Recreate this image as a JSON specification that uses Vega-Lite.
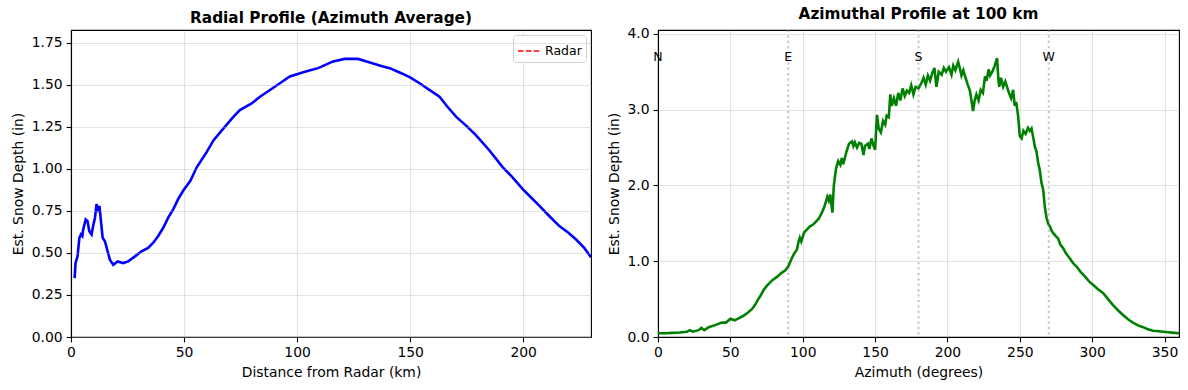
{
  "$schema": "https://vega.github.io/schema/vega-lite/v6.json",
  "padding": {"left": 10, "top": 6, "right": 5, "bottom": 5},
  "bounds": "flush",
  "spacing": 67,
  "resolve": {"legend": {"color": "independent"}, "scale": {"color": "independent"}},
  "config": {
    "font": "DejaVu Sans",
    "view": {"stroke": "black", "strokeWidth": 1.1},
    "axis": {"domainColor": "black", "domainWidth": 1.1, "tickColor": "black", "tickWidth": 1.1, "tickSize": 4.9, "labelPadding": 4, "labelFontSize": 13.9, "labelColor": "black", "titleFontSize": 13.9, "titleFontWeight": "normal", "titleColor": "black", "gridColor": "#b0b0b0", "gridOpacity": 0.35, "gridWidth": 1.1, "labelFlush": false, "labelOverlap": false, "titlePadding": 6},
    "title": {"fontSize": 15.3, "fontWeight": "bold", "color": "black", "anchor": "middle", "frame": "group", "offset": 4}
  },
  "datasets": {
    "radial": [
      {"distance": 1.6, "depth": 0.35}, {"distance": 2.0, "depth": 0.44}, {"distance": 2.9, "depth": 0.48}, {"distance": 3.7, "depth": 0.59},
      {"distance": 4.4, "depth": 0.61}, {"distance": 5.0, "depth": 0.6}, {"distance": 5.4, "depth": 0.64}, {"distance": 6.5, "depth": 0.7},
      {"distance": 7.3, "depth": 0.69}, {"distance": 8.1, "depth": 0.63}, {"distance": 9.1, "depth": 0.61}, {"distance": 9.8, "depth": 0.66},
      {"distance": 10.6, "depth": 0.71}, {"distance": 11.3, "depth": 0.79}, {"distance": 12.0, "depth": 0.76}, {"distance": 12.6, "depth": 0.78},
      {"distance": 13.1, "depth": 0.71}, {"distance": 14.0, "depth": 0.59}, {"distance": 15.0, "depth": 0.57}, {"distance": 16.2, "depth": 0.51},
      {"distance": 17.2, "depth": 0.46}, {"distance": 18.7, "depth": 0.43}, {"distance": 20.6, "depth": 0.45}, {"distance": 23.1, "depth": 0.44},
      {"distance": 25.3, "depth": 0.45}, {"distance": 28.3, "depth": 0.48}, {"distance": 31.2, "depth": 0.51}, {"distance": 34.1, "depth": 0.53},
      {"distance": 36.3, "depth": 0.56}, {"distance": 38.5, "depth": 0.6}, {"distance": 40.8, "depth": 0.65}, {"distance": 43.0, "depth": 0.71},
      {"distance": 45.2, "depth": 0.76}, {"distance": 47.4, "depth": 0.82}, {"distance": 49.6, "depth": 0.87}, {"distance": 52.8, "depth": 0.93},
      {"distance": 55.6, "depth": 1.01}, {"distance": 60.0, "depth": 1.1}, {"distance": 63.0, "depth": 1.17}, {"distance": 66.7, "depth": 1.23},
      {"distance": 71.8, "depth": 1.31}, {"distance": 74.7, "depth": 1.35}, {"distance": 79.9, "depth": 1.39}, {"distance": 83.6, "depth": 1.43},
      {"distance": 88.0, "depth": 1.47}, {"distance": 92.4, "depth": 1.51}, {"distance": 96.8, "depth": 1.55}, {"distance": 101.3, "depth": 1.57},
      {"distance": 105.0, "depth": 1.585}, {"distance": 109.3, "depth": 1.6}, {"distance": 115.9, "depth": 1.64}, {"distance": 121.1, "depth": 1.655},
      {"distance": 127.0, "depth": 1.655}, {"distance": 132.9, "depth": 1.63}, {"distance": 138.0, "depth": 1.61}, {"distance": 141.0, "depth": 1.6},
      {"distance": 146.1, "depth": 1.57}, {"distance": 150.0, "depth": 1.545}, {"distance": 154.2, "depth": 1.51}, {"distance": 158.0, "depth": 1.475},
      {"distance": 163.0, "depth": 1.43}, {"distance": 166.5, "depth": 1.37}, {"distance": 170.4, "depth": 1.31}, {"distance": 175.0, "depth": 1.255},
      {"distance": 179.2, "depth": 1.2}, {"distance": 185.1, "depth": 1.11}, {"distance": 191.0, "depth": 1.01}, {"distance": 195.0, "depth": 0.955},
      {"distance": 199.8, "depth": 0.88}, {"distance": 203.5, "depth": 0.83}, {"distance": 207.2, "depth": 0.78}, {"distance": 211.5, "depth": 0.72},
      {"distance": 216.0, "depth": 0.66}, {"distance": 220.0, "depth": 0.62}, {"distance": 223.4, "depth": 0.58}, {"distance": 227.0, "depth": 0.53},
      {"distance": 230.0, "depth": 0.475}
    ],
    "radar": [{"distance": 0, "label": "Radar"}],
    "azimuthal": [
      {"azimuth": 0, "depth": 0.05}, {"azimuth": 5, "depth": 0.05}, {"azimuth": 10, "depth": 0.055}, {"azimuth": 15, "depth": 0.06},
      {"azimuth": 20, "depth": 0.07}, {"azimuth": 22, "depth": 0.09}, {"azimuth": 24, "depth": 0.07}, {"azimuth": 28, "depth": 0.09},
      {"azimuth": 30, "depth": 0.12}, {"azimuth": 32, "depth": 0.09}, {"azimuth": 35, "depth": 0.13}, {"azimuth": 40, "depth": 0.16},
      {"azimuth": 44, "depth": 0.19}, {"azimuth": 47, "depth": 0.19}, {"azimuth": 50, "depth": 0.24}, {"azimuth": 53, "depth": 0.22},
      {"azimuth": 56, "depth": 0.25}, {"azimuth": 59, "depth": 0.28}, {"azimuth": 62, "depth": 0.32}, {"azimuth": 65, "depth": 0.37},
      {"azimuth": 67, "depth": 0.42}, {"azimuth": 69, "depth": 0.49}, {"azimuth": 71, "depth": 0.55}, {"azimuth": 73, "depth": 0.62},
      {"azimuth": 75, "depth": 0.67}, {"azimuth": 77, "depth": 0.71}, {"azimuth": 79, "depth": 0.75}, {"azimuth": 82, "depth": 0.79},
      {"azimuth": 85, "depth": 0.84}, {"azimuth": 88, "depth": 0.88}, {"azimuth": 90, "depth": 0.93}, {"azimuth": 92, "depth": 1.02},
      {"azimuth": 94, "depth": 1.1}, {"azimuth": 96, "depth": 1.15}, {"azimuth": 97, "depth": 1.25}, {"azimuth": 98, "depth": 1.31},
      {"azimuth": 99, "depth": 1.26}, {"azimuth": 101, "depth": 1.38}, {"azimuth": 103, "depth": 1.42}, {"azimuth": 105, "depth": 1.46},
      {"azimuth": 107, "depth": 1.48}, {"azimuth": 109, "depth": 1.52}, {"azimuth": 111, "depth": 1.56}, {"azimuth": 113, "depth": 1.63},
      {"azimuth": 115, "depth": 1.72}, {"azimuth": 117, "depth": 1.85}, {"azimuth": 118, "depth": 1.8}, {"azimuth": 119, "depth": 1.88},
      {"azimuth": 120.5, "depth": 1.64}, {"azimuth": 121.5, "depth": 2.0}, {"azimuth": 123, "depth": 2.22}, {"azimuth": 124.5, "depth": 2.32},
      {"azimuth": 126, "depth": 2.27}, {"azimuth": 127, "depth": 2.36}, {"azimuth": 128, "depth": 2.28}, {"azimuth": 130, "depth": 2.43},
      {"azimuth": 132, "depth": 2.55}, {"azimuth": 134, "depth": 2.58}, {"azimuth": 135, "depth": 2.52}, {"azimuth": 136, "depth": 2.57},
      {"azimuth": 137.5, "depth": 2.5}, {"azimuth": 139, "depth": 2.56}, {"azimuth": 140.5, "depth": 2.55}, {"azimuth": 142, "depth": 2.4},
      {"azimuth": 143, "depth": 2.52}, {"azimuth": 145, "depth": 2.55}, {"azimuth": 146, "depth": 2.48}, {"azimuth": 147.5, "depth": 2.62},
      {"azimuth": 149, "depth": 2.52}, {"azimuth": 150, "depth": 2.47}, {"azimuth": 151.3, "depth": 2.93}, {"azimuth": 152.5, "depth": 2.75},
      {"azimuth": 154, "depth": 2.7}, {"azimuth": 155.5, "depth": 2.85}, {"azimuth": 157, "depth": 2.8}, {"azimuth": 158, "depth": 2.92},
      {"azimuth": 159.5, "depth": 2.9}, {"azimuth": 160.5, "depth": 3.2}, {"azimuth": 161.5, "depth": 3.05}, {"azimuth": 163, "depth": 3.15},
      {"azimuth": 164.5, "depth": 3.05}, {"azimuth": 166, "depth": 3.22}, {"azimuth": 167.5, "depth": 3.12}, {"azimuth": 169, "depth": 3.28},
      {"azimuth": 170.5, "depth": 3.18}, {"azimuth": 172, "depth": 3.25}, {"azimuth": 173.5, "depth": 3.22}, {"azimuth": 175, "depth": 3.32},
      {"azimuth": 176.5, "depth": 3.2}, {"azimuth": 178, "depth": 3.3}, {"azimuth": 180, "depth": 3.28}, {"azimuth": 182, "depth": 3.35},
      {"azimuth": 183.5, "depth": 3.42}, {"azimuth": 185, "depth": 3.33}, {"azimuth": 186.5, "depth": 3.45}, {"azimuth": 188, "depth": 3.38},
      {"azimuth": 189.5, "depth": 3.48}, {"azimuth": 191, "depth": 3.55}, {"azimuth": 192.4, "depth": 3.3}, {"azimuth": 194, "depth": 3.5},
      {"azimuth": 196, "depth": 3.46}, {"azimuth": 197.5, "depth": 3.55}, {"azimuth": 199, "depth": 3.5}, {"azimuth": 201, "depth": 3.56},
      {"azimuth": 202.8, "depth": 3.46}, {"azimuth": 204, "depth": 3.58}, {"azimuth": 205.5, "depth": 3.52}, {"azimuth": 207.4, "depth": 3.63},
      {"azimuth": 208.5, "depth": 3.55}, {"azimuth": 209.7, "depth": 3.45}, {"azimuth": 211, "depth": 3.52}, {"azimuth": 212.5, "depth": 3.42},
      {"azimuth": 214, "depth": 3.33}, {"azimuth": 215.5, "depth": 3.25}, {"azimuth": 216.6, "depth": 3.12}, {"azimuth": 217.7, "depth": 2.98},
      {"azimuth": 218.8, "depth": 3.12}, {"azimuth": 220, "depth": 3.2}, {"azimuth": 221.5, "depth": 3.12}, {"azimuth": 223, "depth": 3.26},
      {"azimuth": 224.5, "depth": 3.22}, {"azimuth": 226, "depth": 3.44}, {"azimuth": 227, "depth": 3.38}, {"azimuth": 228.5, "depth": 3.53},
      {"azimuth": 229.5, "depth": 3.45}, {"azimuth": 231, "depth": 3.5}, {"azimuth": 232.7, "depth": 3.58}, {"azimuth": 234.3, "depth": 3.68},
      {"azimuth": 235.2, "depth": 3.4}, {"azimuth": 235.8, "depth": 3.3}, {"azimuth": 237, "depth": 3.42}, {"azimuth": 238.5, "depth": 3.3},
      {"azimuth": 240, "depth": 3.37}, {"azimuth": 241.5, "depth": 3.28}, {"azimuth": 242.5, "depth": 3.22}, {"azimuth": 244, "depth": 3.15},
      {"azimuth": 245.4, "depth": 3.26}, {"azimuth": 246.5, "depth": 3.05}, {"azimuth": 247.5, "depth": 3.1}, {"azimuth": 248.8, "depth": 2.92},
      {"azimuth": 250, "depth": 2.65}, {"azimuth": 251.2, "depth": 2.62}, {"azimuth": 252.5, "depth": 2.72}, {"azimuth": 254, "depth": 2.68},
      {"azimuth": 255.7, "depth": 2.76}, {"azimuth": 257, "depth": 2.72}, {"azimuth": 258.1, "depth": 2.75}, {"azimuth": 259.2, "depth": 2.64},
      {"azimuth": 260.4, "depth": 2.51}, {"azimuth": 261.5, "depth": 2.45}, {"azimuth": 262.6, "depth": 2.31}, {"azimuth": 263.8, "depth": 2.2},
      {"azimuth": 265, "depth": 2.03}, {"azimuth": 266.1, "depth": 1.95}, {"azimuth": 267.3, "depth": 1.72}, {"azimuth": 268.4, "depth": 1.58},
      {"azimuth": 269.5, "depth": 1.5}, {"azimuth": 271, "depth": 1.45}, {"azimuth": 272, "depth": 1.4}, {"azimuth": 273.5, "depth": 1.36},
      {"azimuth": 275.3, "depth": 1.32}, {"azimuth": 276.5, "depth": 1.3}, {"azimuth": 278, "depth": 1.22}, {"azimuth": 280, "depth": 1.17},
      {"azimuth": 282, "depth": 1.1}, {"azimuth": 284.5, "depth": 1.04}, {"azimuth": 287, "depth": 0.97}, {"azimuth": 289.2, "depth": 0.93},
      {"azimuth": 292, "depth": 0.86}, {"azimuth": 294.9, "depth": 0.8}, {"azimuth": 298, "depth": 0.73}, {"azimuth": 300.6, "depth": 0.69},
      {"azimuth": 304, "depth": 0.63}, {"azimuth": 307.5, "depth": 0.58}, {"azimuth": 311, "depth": 0.5}, {"azimuth": 314.4, "depth": 0.42},
      {"azimuth": 318, "depth": 0.35}, {"azimuth": 321.3, "depth": 0.29}, {"azimuth": 325, "depth": 0.23}, {"azimuth": 328.2, "depth": 0.19},
      {"azimuth": 332, "depth": 0.15}, {"azimuth": 335.2, "depth": 0.13}, {"azimuth": 338, "depth": 0.105}, {"azimuth": 342, "depth": 0.083},
      {"azimuth": 346, "depth": 0.075}, {"azimuth": 351, "depth": 0.066}, {"azimuth": 355, "depth": 0.058}, {"azimuth": 360, "depth": 0.049}
    ],
    "cardinal": [
      {"azimuth": 0, "dir": "N"}, {"azimuth": 90, "dir": "E"}, {"azimuth": 180, "dir": "S"}, {"azimuth": 270, "dir": "W"}
    ]
  },
  "hconcat": [
    {
      "width": 520,
      "height": 307,
      "title": "Radial Profile (Azimuth Average)",
      "encoding": {
        "x": {"field": "distance", "type": "quantitative", "scale": {"domain": [0, 230], "nice": false, "zero": false},
              "axis": {"values": [0, 50, 100, 150, 200], "title": "Distance from Radar (km)"}}
      },
      "layer": [
        {
          "data": {"name": "radial"},
          "mark": {"type": "line", "color": "#0000ff", "strokeWidth": 2.6, "clip": true},
          "encoding": {
            "y": {"field": "depth", "type": "quantitative", "scale": {"domain": [0, 1.827], "nice": false},
                  "axis": {"values": [0, 0.25, 0.5, 0.75, 1.0, 1.25, 1.5, 1.75], "format": ".2f", "title": "Est. Snow Depth (in)", "zindex": 1}}
          }
        },
        {
          "data": {"name": "radar"},
          "mark": {"type": "rule", "strokeWidth": 1, "strokeDash": [7.7, 3.3], "opacity": 0},
          "encoding": {
            "color": {"field": "label", "type": "nominal", "scale": {"domain": ["Radar"], "range": ["#ff0000"]},
                      "legend": {"title": null, "orient": "top-right", "offset": 5, "fillColor": "white", "strokeColor": "#d0d0d0", "padding": 4, "cornerRadius": 3, "symbolType": "stroke", "symbolStrokeWidth": 1.8, "symbolDash": [5.5, 2.4], "symbolSize": 484, "labelFontSize": 12.5, "labelColor": "black", "symbolOpacity": 0.75, "symbolStrokeColor": "#ff0000"}}
          }
        }
      ]
    },
    {
      "width": 521,
      "height": 307,
      "title": "Azimuthal Profile at 100 km",
      "encoding": {
        "x": {"field": "azimuth", "type": "quantitative", "scale": {"domain": [0, 360], "nice": false, "zero": false},
              "axis": {"values": [0, 50, 100, 150, 200, 250, 300, 350], "title": "Azimuth (degrees)"}}
      },
      "layer": [
        {
          "data": {"name": "azimuthal"},
          "mark": {"type": "line", "color": "#008000", "strokeWidth": 2.6, "clip": true},
          "encoding": {
            "y": {"field": "depth", "type": "quantitative", "scale": {"domain": [0, 4.05], "nice": false},
                  "axis": {"values": [0, 0.5, 1.0, 1.5, 2.0, 2.5, 3.0, 3.5, 4.0], "format": ".1f", "title": "Est. Snow Depth (in)"}}
          }
        },
        {
          "data": {"name": "cardinal"},
          "transform": [{"filter": "datum.azimuth > 0"}],
          "mark": {"type": "rule", "color": "gray", "opacity": 0.5, "strokeDash": [2, 3.4], "strokeWidth": 2},
          "encoding": {}
        },
        {
          "data": {"name": "cardinal"},
          "mark": {"type": "text", "fontSize": 12.5, "baseline": "middle", "align": "center", "color": "black"},
          "encoding": {
            "y": {"datum": 3.7},
            "text": {"field": "dir", "type": "nominal"}
          }
        }
      ]
    }
  ]
}
